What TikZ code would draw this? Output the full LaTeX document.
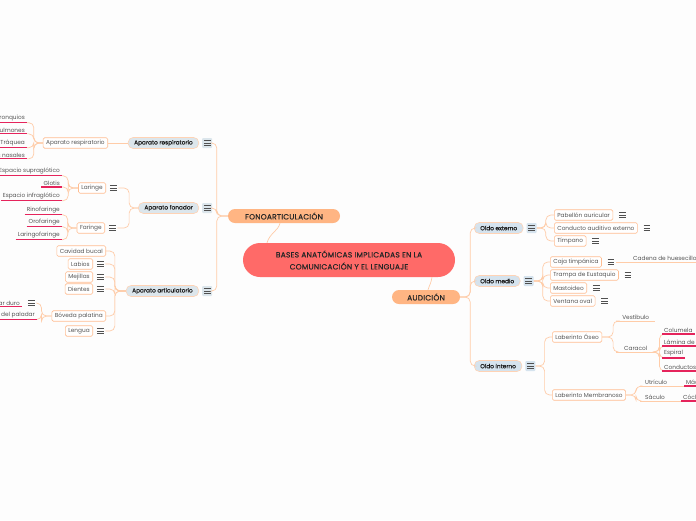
\documentclass[tikz,border=0pt]{standalone}
\usepackage{fontspec}
\setmainfont{Poppins}
\usetikzlibrary{positioning, calc}

\definecolor{bgc}{HTML}{FDFDFD}
\definecolor{rootc}{HTML}{FF6A68}
\definecolor{mainc}{HTML}{FFB583}
\definecolor{subc}{HTML}{DCE6EC}
\definecolor{subr}{HTML}{D5E3EE}
\definecolor{subline}{HTML}{FFD3B5}
\definecolor{boxc}{HTML}{FFBE93}
\definecolor{linkc}{HTML}{FFCCA8}
\definecolor{leafred}{HTML}{E5245C}
\definecolor{textc}{HTML}{555555}
\definecolor{menuc}{HTML}{505050}

\newcommand{\fsroot}{\fontsize{7.5}{12}\selectfont\addfontfeatures{LetterSpace=3, FakeBold=0.4}}
\newcommand{\fsmain}{\fontsize{7.5}{9}\selectfont\addfontfeatures{LetterSpace=3, FakeBold=0.4}}
\newcommand{\fssub}{\fontsize{5.8}{7}\selectfont\addfontfeatures{FakeBold=0.6}}
\newcommand{\fsleaf}{\fontsize{5.8}{7}\selectfont}

\tikzset{
  root/.style={fill=rootc, rounded corners=17, minimum width=212, minimum height=34,
    align=center, font=\fsroot, text=black!85},
  topic/.style={fill=mainc, rounded corners=7, minimum height=14, inner sep=0,
    font=\fsmain, text=black!85},
  sub/.style={fill=subc, draw=subline, line width=0.6, rounded corners=5,
    minimum height=11, inner xsep=6, inner ysep=0, font=\fssub, text=black!90},
  item/.style={draw=boxc, line width=0.6, fill=white, rounded corners=1.5,
    minimum height=10.5, inner xsep=3, inner ysep=0, font=\fsleaf, text=textc},
  leaf/.style={inner xsep=2, inner ysep=1.5, font=\fsleaf, text=textc},
  plain/.style={inner xsep=5, inner ysep=1.5, font=\fsleaf, text=textc},
  link/.style={draw=linkc, line width=0.7, rounded corners=5},
  redline/.style={draw=leafred, line width=1.2},
  menu/.style={minimum size=10, inner sep=0,
    path picture={\foreach \d in {-2.3,0,2.3}
      \draw[menuc, line width=0.55] ($(path picture bounding box.center)+(-3.4,\d)$) -- ++(6.8,0);}},
  menubox/.style={menu, fill=subc, rounded corners=1}
}

\begin{document}
\begin{tikzpicture}[x=1pt, y=-1pt]
    \clip (0,0) rectangle (696,520);
    \fill[bgc] (0,0) rectangle (696,520);
    % Centre and main topics
    \node[root] (root) at (349,260) {BASES ANATÓMICAS IMPLICADAS EN LA\\COMUNICACIÓN Y EL LENGUAJE};
    \node[topic, minimum width=112] (fono) at (284,216) {FONOARTICULACIÓN};
    \node[topic, minimum width=68] (audi) at (426,297) {AUDICIÓN};
    \draw[link] ([xshift=-82]root.north) .. controls +(3,-10) and +(-2,8) .. ([xshift=-4]fono.south);
    \draw[link] ([xshift=83]root.south) .. controls +(-1,6) and +(2,-6) .. ([xshift=2]audi.north);
    %
    % FONOARTICULACION: second level
    \node[sub, anchor=east] (resp2) at (199,143) {Aparato respiratorio};
    \node[menubox, right=3pt of resp2] (mresp) {};
    \node[sub, anchor=east] (fon2) at (199,208) {Aparato fonador};
    \node[menubox, right=3pt of fon2] (mfon) {};
    \node[sub, anchor=east] (art2) at (199,291) {Aparato articulatorio};
    \node[menubox, right=3pt of art2] (mart) {};
    \foreach \m in {mresp, mfon, mart}
        \draw[link] (fono.west) -- ++(-11,0) |- (\m.east);
    %
    % Aparato respiratorio
    \node[item, anchor=east] (resp3) at (108,143) {Aparato respiratorio};
    \draw[link] (resp2.west) -- (resp3.east);
    \node[leaf, anchor=east] (bron) at (27,118) {Bronquios};
    \node[leaf, anchor=east] (pulm) at (27,130) {Pulmones};
    \node[leaf, anchor=east] (traq) at (27,143) {Tráquea};
    \node[leaf, anchor=east] (fosa) at (27,155) {Fosas nasales};
    \foreach \n in {bron, pulm, traq, fosa}
        \draw[link] (resp3.west) -- ++(-9,0) |- (\n.south east);
    %
    % Aparato fonador
    \node[item, anchor=east] (lar3) at (106,188) {Laringe};
    \node[menu, right=2pt of lar3] (mlar) {};
    \node[item, anchor=east] (far3) at (105,228) {Faringe};
    \node[menu, right=2pt of far3] (mfar) {};
    \foreach \m in {mlar, mfar}
        \draw[link] (fon2.west) -- ++(-9,0) |- (\m.east);
    \node[leaf, anchor=east] (supra) at (62,171) {Espacio supraglótico};
    \node[leaf, anchor=east] (glot) at (62,183) {Glotis};
    \node[leaf, anchor=east] (infra) at (62,196) {Espacio infraglótico};
    \foreach \n in {supra, glot, infra}
        \draw[link] (lar3.west) -- ++(-10,0) |- (\n.south east);
    \node[leaf, anchor=east] (rino) at (62,210) {Rinofaringe};
    \node[leaf, anchor=east] (oro) at (62,222) {Orofaringe};
    \node[leaf, anchor=east] (laro) at (62,235) {Laringofaringe};
    \foreach \n in {rino, oro, laro}
        \draw[link] (far3.west) -- ++(-9,0) |- (\n.south east);
    %
    % Aparato articulatorio
    \node[item, anchor=east] (cav) at (106,251) {Cavidad bucal};
    \node[item, anchor=east] (lab) at (93,264) {Labios};
    \node[menu, right=2pt of lab] (mlab) {};
    \node[item, anchor=east] (mej) at (93,277) {Mejillas};
    \node[menu, right=2pt of mej] (mmej) {};
    \node[item, anchor=east] (die) at (93,289) {Dientes};
    \node[menu, right=2pt of die] (mdie) {};
    \node[item, anchor=east] (bov) at (106,316) {Bóveda palatina};
    \node[item, anchor=east] (len) at (93,331) {Lengua};
    \node[menu, right=2pt of len] (mlen) {};
    \foreach \m in {cav, mlab, mmej, mdie, bov, mlen}
        \draw[link] (art2.west) -- ++(-11,0) |- (\m.east);
    \node[leaf, anchor=east] (dur) at (22,303) {Paladar duro};
    \node[menu, right=4pt of dur] (mdur) {};
    \node[leaf, anchor=east] (velo) at (37,315) {Velo del paladar};
    \draw[link] (bov.west) -- ++(-10,0) |- (mdur.east);
    \draw[link] (bov.west) -- ++(-10,0) |- (velo.south east);
    %
    % AUDICION: second level
    \node[sub, fill=subr, anchor=west] (ext2) at (474,228) {Oído externo};
    \node[menubox, fill=subr, right=3pt of ext2] (mext) {};
    \node[sub, fill=subr, anchor=west] (med2) at (474,281) {Oído medio};
    \node[menubox, fill=subr, right=3pt of med2] (mmed) {};
    \node[sub, fill=subr, anchor=west] (int2) at (474,366) {Oído interno};
    \node[menubox, fill=subr, right=3pt of int2] (mint) {};
    \foreach \n in {ext2, med2, int2}
        \draw[link] (audi.east) -- ++(10,0) |- (\n.west);
    %
    % Oido externo
    \node[item, anchor=west] (pab) at (554,215) {Pabellón auricular};
    \node[menu, right=4pt of pab] (mpab) {};
    \node[item, anchor=west] (con) at (554,228) {Conducto auditivo externo};
    \node[menu, right=4pt of con] (mcon) {};
    \node[item, anchor=west] (tim) at (554,241) {Tímpano};
    \node[menu, right=4pt of tim] (mtim) {};
    \foreach \n in {pab, con, tim}
        \draw[link] (mext.east) -- ++(9,0) |- (\n.west);
    %
    % Oido medio
    \node[item, anchor=west] (caja) at (550,262) {Caja timpánica};
    \node[menu, right=4pt of caja] (mcaja) {};
    \node[item, anchor=west] (tram) at (550,275) {Trampa de Eustaquio};
    \node[menu, right=4pt of tram] (mtram) {};
    \node[item, anchor=west] (mast) at (550,288) {Mastoideo};
    \node[menu, right=4pt of mast] (mmast) {};
    \node[item, anchor=west] (vent) at (550,301) {Ventana oval};
    \node[menu, right=4pt of vent] (mvent) {};
    \foreach \n in {caja, tram, mast, vent}
        \draw[link] (mmed.east) -- ++(9,0) |- (\n.west);
    \node[plain, anchor=south west] (cad) at (628,262) {Cadena de huesecillos};
    \draw[link] (mcaja.east) -- (cad.south west);
    %
    % Oido interno
    \node[item, anchor=west] (lo) at (552,337) {Laberinto Óseo};
    \node[item, anchor=west] (lm) at (552,395) {Laberinto Membranoso};
    \foreach \n in {lo, lm}
        \draw[link] (mint.east) -- ++(9,0) |- (\n.west);
    \node[plain, anchor=south west, minimum width=39] (vest) at (616,321) {Vestíbulo};
    \node[plain, anchor=south west, minimum width=39] (car) at (616,352) {Caracol};
    \foreach \n in {vest, car}
        \draw[link] (lo.east) -- ++(11,0) |- (\n.south west);
    \node[leaf, anchor=south west] (col) at (662,334) {Columela};
    \node[leaf, anchor=south west] (lam) at (662,346) {Lámina de};
    \node[leaf, anchor=south west] (esp) at (662,358) {Espiral};
    \node[leaf, anchor=south west] (cond) at (662,371) {Conductos};
    \foreach \n in {col, lam, esp, cond}
        \draw[link] (car.south east) -- ++(4,0) |- (\n.south west);
    \node[plain, anchor=south west] (utr) at (640,386) {Utrículo};
    \node[plain, anchor=south west] (sac) at (640,401) {Sáculo};
    \foreach \n in {utr, sac}
        \draw[link] (lm.east) -- ++(10,0) |- (\n.south west);
    \node[leaf, anchor=south west] (mac) at (684,386) {Mácula};
    \node[leaf, anchor=south west] (coc) at (681,401) {Cóclea};
    \draw[link] (utr.south east) -- (mac.south west);
    \draw[link] (sac.south east) -- (coc.south west);
    %
    % Underlines
    \foreach \n in {cad, vest, car, utr, sac}
        \draw[link] (\n.south west) -- (\n.south east);
    \foreach \n in {bron, pulm, traq, fosa, supra, glot, infra, rino, oro, laro, dur, velo, col, lam, esp, cond, mac, coc}
        \draw[redline] (\n.south west) -- (\n.south east);
\end{tikzpicture}
\end{document}
